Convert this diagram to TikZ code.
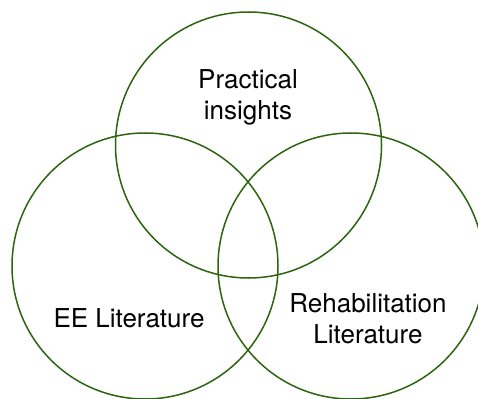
\documentclass[tikz,border=0pt]{standalone}
\usepackage{fontspec}
\setmainfont{TeX Gyre Heros}
\usepackage{tikz}
\definecolor{leafgreen}{RGB}{45, 100, 15}

\begin{document}
\begin{tikzpicture}[x=1pt, y=-1pt,
    ring/.style={draw=leafgreen, line width=1.5pt, circle,
                 minimum size=266pt, inner sep=0pt},
    tag/.style={font=\fontsize{26}{31}\selectfont, align=center, text=black}
]
    % frame, circles run past it at the bottom and right
    \useasboundingbox (0,0) rectangle (478,398);
    \fill[white] (0,0) rectangle (478,398);
    \clip (0,0) rectangle (478,398);

    \node[ring] (practice) at (248.5,145) {};
    \node[ring] (ee) at (145,266) {};
    \node[ring] (rehab) at (351,266) {};

    \node[tag] (practicelabel) at (248,97) {Practical\\insights};
    \node[tag] (eelabel) at (129,318) {EE Literature};
    \node[tag] (rehablabel) at (368,319) {Rehabilitation\\Literature};
\end{tikzpicture}
\end{document}
